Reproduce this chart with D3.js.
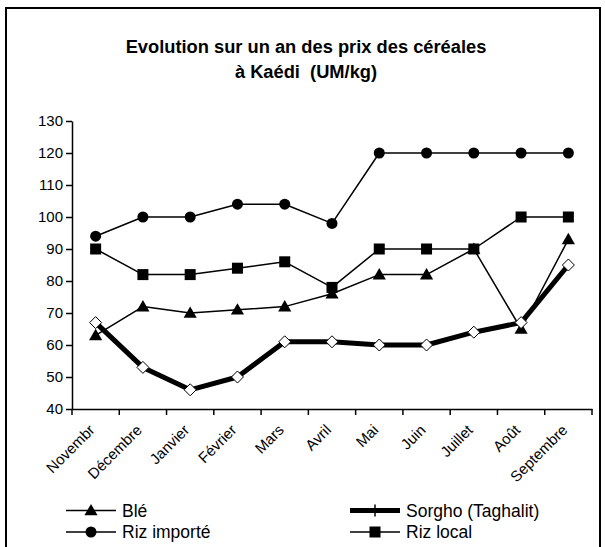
<!DOCTYPE html>
<html><head><meta charset="utf-8">
<script src="https://cdn.jsdelivr.net/npm/d3@7"></script>
<style>body{margin:0;background:#fff}svg{display:block}text{font-family:"Liberation Sans",Arial,sans-serif;fill:#000}</style>
</head><body>
<script>
const months = ["Novembre","Décembre","Janvier","Février","Mars","Avril","Mai","Juin","Juillet","Août","Septembre"];
const monthLabels = ["Novembr","Décembre","Janvier","Février","Mars","Avril","Mai","Juin","Juillet","Août","Septembre"];
const ble = [63,72,70,71,72,76,82,82,90,65,93];
const sorgho = [67,53,46,50,61,61,60,60,64,67,85];
const rizImporte = [94,100,100,104,104,98,120,120,120,120,120];
const rizLocal = [90,82,82,84,86,78,90,90,90,100,100];
const yTicks = [40,50,60,70,80,90,100,110,120,130];
const titleLines = ["Evolution sur un an des prix des céréales","à Kaédi\u00a0\u00a0(UM/kg)"];

const W=605,H=547;
const svg=d3.select("body").append("svg").attr("width",W).attr("height",H);
svg.append("rect").attr("x",6).attr("y",8).attr("width",594).attr("height",545).attr("fill","#fff").attr("stroke","#000").attr("stroke-width",2);

svg.selectAll("text.title").data(titleLines).join("text").attr("class","title")
  .attr("x",306).attr("y",(d,i)=>53+i*25).attr("text-anchor","middle")
  .attr("font-size",18.3).attr("font-weight","bold").text(d=>d);

const x=d3.scaleBand().domain(months).range([72,592]).paddingInner(0).paddingOuter(0);
const y=d3.scaleLinear().domain([40,130]).range([409,121]);
const cx=m=>x(m)+x.bandwidth()/2;

// y axis
const ya=svg.append("g").attr("transform","translate(72,0)").call(d3.axisLeft(y).tickValues(yTicks).tickSize(6).tickSizeOuter(0));
ya.select(".domain").attr("stroke-width",1.5);
ya.selectAll(".tick line").attr("stroke-width",1.5);
ya.selectAll("text").attr("font-size",15).attr("fill","#000").attr("font-family","Liberation Sans, Arial, sans-serif").attr("x",-9);

// x axis
const xa=svg.append("g").attr("transform","translate(0,409)").call(d3.axisBottom(x).tickSize(0).tickFormat((d,i)=>monthLabels[i]));
xa.select(".domain").attr("stroke-width",1.5);
const bounds=d3.range(months.length+1).map(i=>x.range()[0]+i*x.step());
xa.selectAll("line.bt").data(bounds).join("line").attr("class","bt")
  .attr("x1",d=>d).attr("x2",d=>d).attr("y1",0).attr("y2",6).attr("stroke","#000").attr("stroke-width",1.5);
xa.selectAll(".tick text").attr("font-size",15).attr("fill","#000").attr("font-family","Liberation Sans, Arial, sans-serif")
  .attr("text-anchor","end").attr("dy",0).attr("y",0)
  .attr("transform","translate(0,22) rotate(-45)");

const line=d3.line().x((d,i)=>cx(months[i])).y(d=>y(d));
function drawLine(data,w){svg.append("path").datum(data).attr("d",line).attr("fill","none").attr("stroke","#000").attr("stroke-width",w).attr("stroke-linejoin","round");}

const tri=d3.symbol().type(d3.symbolTriangle).size(75);
function triangle(g,px,py){g.append("path").attr("d",tri()).attr("transform",`translate(${px},${py+1})`).attr("fill","#000");}
function circle(g,px,py){g.append("circle").attr("cx",px).attr("cy",py).attr("r",5.5).attr("fill","#000");}
function square(g,px,py){g.append("rect").attr("x",px-5.5).attr("y",py-5.5).attr("width",11).attr("height",11).attr("fill","#000");}
function diamond(g,px,py){g.append("path").attr("d",`M${px},${py-6}L${px+6},${py}L${px},${py+6}L${px-6},${py}Z`).attr("fill","#fff").attr("stroke","#000").attr("stroke-width",1);}

drawLine(rizImporte,1.5); drawLine(rizLocal,1.5); drawLine(ble,1.5); drawLine(sorgho,5);
const gm=svg.append("g");
rizImporte.forEach((v,i)=>circle(gm,cx(months[i]),y(v)));
rizLocal.forEach((v,i)=>square(gm,cx(months[i]),y(v)));
ble.forEach((v,i)=>triangle(gm,cx(months[i]),y(v)));
sorgho.forEach((v,i)=>diamond(gm,cx(months[i]),y(v)));

// legend
const legend=[
 {name:"Blé",x:66,y:510.5,w:1.5,m:"tri"},
 {name:"Riz importé",x:66,y:532,w:1.5,m:"circ"},
 {name:"Sorgho (Taghalit)",x:350,y:510.5,w:5,m:"plus"},
 {name:"Riz local",x:350,y:532,w:1.5,m:"sq"}];
const lg=svg.append("g");
legend.forEach(d=>{
  lg.append("line").attr("x1",d.x).attr("x2",d.x+50).attr("y1",d.y).attr("y2",d.y).attr("stroke","#000").attr("stroke-width",d.w);
  const mx=d.x+25;
  if(d.m==="tri")triangle(lg,mx,d.y);
  if(d.m==="circ")circle(lg,mx,d.y);
  if(d.m==="sq")square(lg,mx,d.y);
  if(d.m==="plus")lg.append("line").attr("x1",mx).attr("x2",mx).attr("y1",d.y-6).attr("y2",d.y+6).attr("stroke","#000").attr("stroke-width",1.5);
  lg.append("text").attr("x",d.x+56).attr("y",d.y+6).attr("font-size",17.5).text(d.name);
});
</script>
</body></html>
